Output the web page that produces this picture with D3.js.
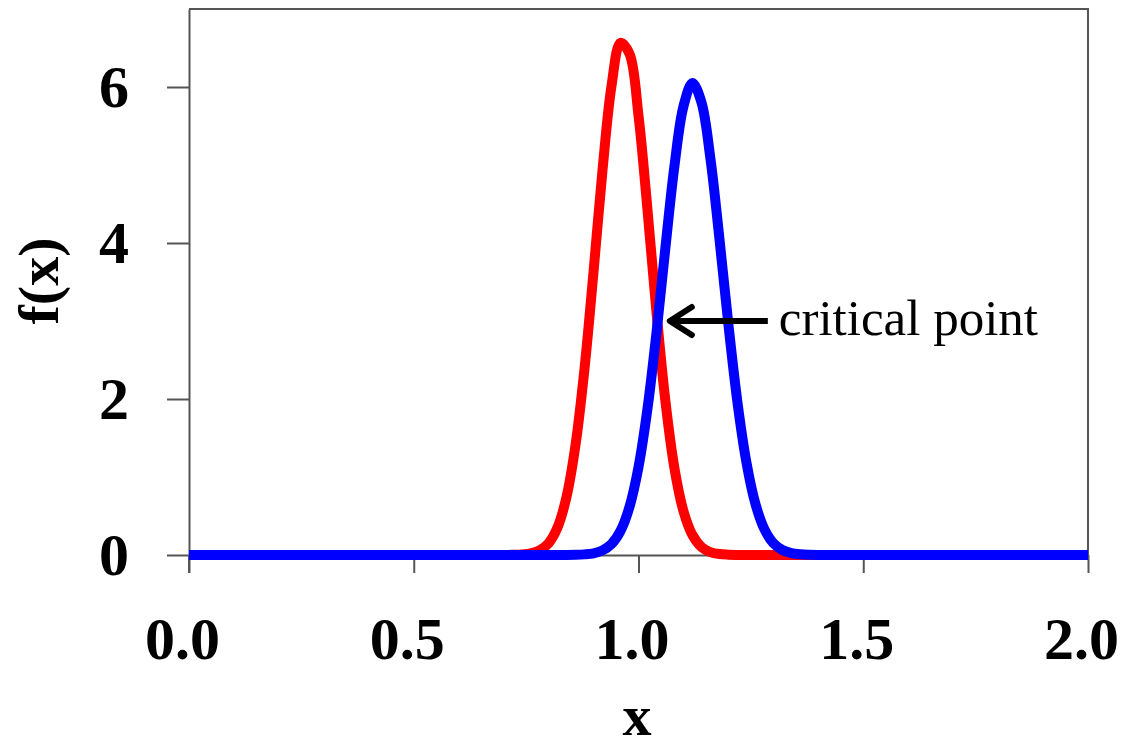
<!DOCTYPE html>
<html>

<head>
    <meta charset="utf-8">
    <title>Critical point</title>
    <script type="text/javascript" src="https://cdn.jsdelivr.net/npm/d3@7"></script>
    <style>
        body { margin: 0; background: #fff; }
        .axis path, .axis line { stroke: #555; stroke-width: 2px; }
        .axis text { font-family: "Liberation Serif", "Times New Roman", serif; font-weight: bold; font-size: 60px; fill: #000; }
    </style>
</head>

<body>

    <script type="text/javascript">
        // values
        let xValues = [0.00, 0.70, 0.72, 0.74, 0.76, 0.78, 0.80, 0.82, 0.84, 0.86, 0.88, 0.90, 0.92, 0.94, 0.96, 0.98,
            1.00, 1.02, 1.04, 1.06, 1.08, 1.10, 1.12, 1.14, 1.16, 1.18, 1.20, 1.22, 1.24, 1.26, 1.28, 1.30,
            1.32, 1.34, 1.36, 1.38, 1.40, 2.00];
        let redValues = [0, 0, 0.002, 0.006, 0.020, 0.058, 0.151, 0.355, 0.749, 1.415, 2.395, 3.633, 4.939, 6.016, 6.567, 6.425,
            5.633, 4.425, 3.116, 1.966, 1.111, 0.563, 0.256, 0.104, 0.038, 0.012, 0.004, 0.001, 0, 0, 0, 0,
            0, 0, 0, 0, 0, 0];
        let blueValues = [0, 0, 0, 0, 0, 0, 0, 0, 0, 0.002, 0.008, 0.022, 0.059, 0.141, 0.309, 0.618,
            1.127, 1.876, 2.849, 3.947, 4.988, 5.752, 6.050, 5.804, 5.081, 4.057, 2.955, 1.964, 1.191, 0.658, 0.332, 0.153,
            0.064, 0.025, 0.009, 0.003, 0.001, 0];
        let xTicks = [0, 0.5, 1.0, 1.5, 2.0];
        let yTicks = [0, 2, 4, 6];
        let criticalPoint = { x: 1.043, y: 3.0 };

        let width = 1139, height = 749,
            margins = { left: 189, top: 9, right: 51, bottom: 194 };

        let plotW = width - margins.left - margins.right,
            plotH = height - margins.top - margins.bottom;

        let x = d3.scaleLinear().domain([0, 2]).range([0, plotW]);
        let y = d3.scaleLinear().domain([0, 7]).range([plotH, 0]);

        let svg = d3.select("body").append("svg")
            .attr("width", width)
            .attr("height", height);

        let g = svg.append("g")
            .attr("transform", "translate(" + margins.left + "," + margins.top + ")");

        // top and right frame
        g.append("path")
            .attr("d", "M0,0H" + plotW + "V" + plotH)
            .attr("fill", "none")
            .attr("stroke", "#555")
            .attr("stroke-width", 2);

        let xAxis = d3.axisBottom(x)
            .tickValues(xTicks)
            .tickSize(18)
            .tickSizeOuter(0)
            .tickPadding(43)
            .tickFormat(d3.format(".1f"));

        let xg = g.append("g")
            .attr("class", "x axis")
            .attr("transform", "translate(0," + plotH + ")")
            .call(xAxis);
        xg.selectAll("text").attr("dx", -7).attr("dy", "0.71em");

        let yAxis = d3.axisLeft(y)
            .tickValues(yTicks)
            .tickSize(22)
            .tickSizeOuter(0)
            .tickPadding(38)
            .tickFormat(d3.format("d"));

        g.append("g")
            .attr("class", "y axis")
            .call(yAxis);

        // left axis runs down past the bottom axis
        g.append("line")
            .attr("x1", 0).attr("x2", 0)
            .attr("y1", plotH).attr("y2", plotH + 18)
            .attr("stroke", "#555")
            .attr("stroke-width", 2);

        let line = d3.line()
            .x(function (d) { return x(d.x); })
            .y(function (d) { return y(d.y); })
            .curve(d3.curveCatmullRom);

        let series = [
            { color: "#ff0000", points: xValues.map(function (v, i) { return { x: v, y: redValues[i] }; }) },
            { color: "#0000ff", points: xValues.map(function (v, i) { return { x: v, y: blueValues[i] }; }) }
        ];

        g.selectAll("path.line")
            .data(series)
            .enter().append("path")
            .attr("class", "line")
            .attr("fill", "none")
            .attr("stroke", function (d) { return d.color; })
            .attr("stroke-width", 10)
            .attr("stroke-linejoin", "round")
            .attr("d", function (d) { return line(d.points); });

        // axis titles
        svg.append("text")
            .attr("x", 637)
            .attr("y", 735)
            .attr("text-anchor", "middle")
            .style("font-family", "'Liberation Serif', 'Times New Roman', serif")
            .style("font-weight", "bold")
            .style("font-size", "58px")
            .text("x");

        svg.append("text")
            .attr("transform", "translate(58,281) rotate(-90)")
            .attr("text-anchor", "middle")
            .style("font-family", "'Liberation Serif', 'Times New Roman', serif")
            .style("font-weight", "bold")
            .style("font-size", "58px")
            .text("f(x)");

        // annotation arrow
        let tipX = x(criticalPoint.x) + 12, tipY = y(criticalPoint.y);
        let ann = g.append("g").attr("class", "annotation");
        ann.append("line")
            .attr("x1", tipX + 2).attr("y1", tipY)
            .attr("x2", tipX + 98).attr("y2", tipY)
            .attr("stroke", "#000")
            .attr("stroke-width", 6);
        ann.append("path")
            .attr("d", "M" + (tipX + 22) + "," + (tipY - 14) + "L" + tipX + "," + tipY + "L" + (tipX + 22) + "," + (tipY + 14))
            .attr("fill", "none")
            .attr("stroke", "#000")
            .attr("stroke-width", 6)
            .attr("stroke-linecap", "round")
            .attr("stroke-linejoin", "round");
        ann.append("text")
            .attr("x", tipX + 109)
            .attr("y", tipY + 14)
            .style("font-family", "'Liberation Serif', 'Times New Roman', serif")
            .style("font-size", "51px")
            .text("critical point");
    </script>

</body>

</html>
